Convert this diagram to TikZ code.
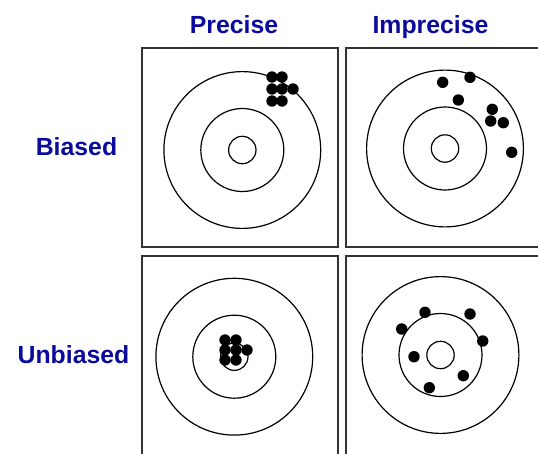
\documentclass[tikz,border=0pt]{standalone}
\usepackage{fontspec}
\setmainfont{Liberation Sans}
\usetikzlibrary{positioning}

\definecolor{labelblue}{RGB}{10,10,155}

\begin{document}
\begin{tikzpicture}[
x=1pt, y=-1pt,
head/.style={font=\fontsize{24.8}{28}\selectfont\bfseries, text=labelblue, anchor=base, inner sep=0pt},
panel/.style={draw=black!80, line width=2pt},
ring/.style={draw, line width=1.2pt},
shot/.style={fill=black}
]
\useasboundingbox (0,0) rectangle (538,453);
\clip (0,0) rectangle (538,453);

% headings
\node[head] (precise) at (234,33) {Precise};
\node[head] (imprecise) at (430.5,33) {Imprecise};
\node[head] (biased) at (76.5,155.5) {Biased};
\node[head] (unbiased) at (73.5,363) {Unbiased};

% panels
\draw[panel] (142,48) rectangle (338,247);
\draw[panel] (346,48) rectangle (560,247);
\draw[panel] (142,256) rectangle (338,470);
\draw[panel] (346,256) rectangle (560,470);

% targets
\foreach \cx/\cy in {242.3/150, 445/148.5, 234.3/356.7, 440.5/355}
  \foreach \r in {13.7, 41.5, 78.4}
    \draw[ring] (\cx,\cy) circle[radius=\r];

% shots
\foreach \sx/\sy in {272/77, 282/77, 272/89, 282/89, 293/89, 272/101, 282/101,
  442.7/82.3, 470/77.3, 458.3/100, 492.3/109.3, 490.7/121, 503.3/122.7, 511.7/152.3,
  225/340, 236/340, 225/350, 236/350, 247/350, 225/360, 236/360,
  425/312.3, 470/314, 401.7/329, 482.7/341, 414/356.7, 463.3/375.7, 429.3/387.7}
  \fill[shot] (\sx,\sy) circle[radius=5.7];
\end{tikzpicture}
\end{document}
